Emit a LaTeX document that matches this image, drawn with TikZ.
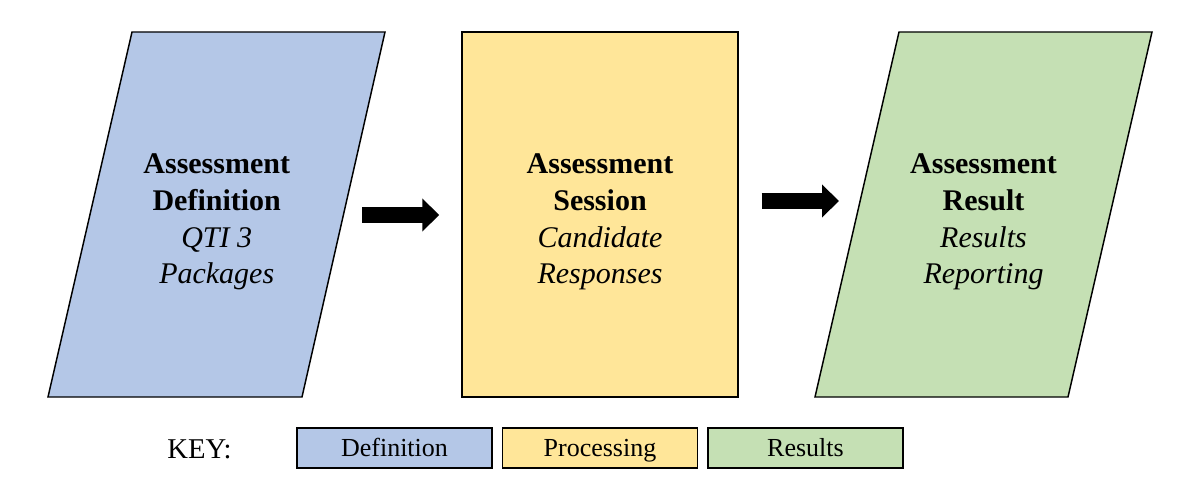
\documentclass[tikz,border=0pt]{standalone}
\usepackage{fontspec}
\setmainfont{Liberation Serif}
\usepackage{tikz}
\usetikzlibrary{arrows.meta}
\definecolor{defblue}{HTML}{B4C7E7}
\definecolor{procyellow}{HTML}{FFE699}
\definecolor{resgreen}{HTML}{C5E0B4}
\begin{document}
\begin{tikzpicture}[x=0.75pt,y=-0.75pt,
  stageline/.style={draw=black,line width=1.1pt,line join=miter},
  stagetext/.style={align=center,inner sep=0pt,font=\fontsize{22.5pt}{27.5pt}\selectfont},
  keybox/.style={draw=black,line width=1.1pt,minimum width=146.25pt,minimum height=30pt,inner sep=0pt,
    text height=16pt,text depth=3pt,font=\fontsize{19.5pt}{23pt}\selectfont},
  blockarrow/.style={line width=12pt,-{Triangle[length=12.75pt,width=24pt]}}]
                      \useasboundingbox (0,0) rectangle (1200,481);
                      \filldraw[stageline,fill=defblue](132,32)--(385,32)--(302,397)--(48,397)--cycle;
                      \node[stageline,fill=procyellow,minimum width=207pt,minimum height=273.75pt,inner sep=0pt](ses)at(600,214.5){};
                      \filldraw[stageline,fill=resgreen](899,32)--(1152,32)--(1068,397)--(815,397)--cycle;
                      \node[stagetext](def)at(216.75,222){\textbf{Assessment}\\\textbf{Definition}\\\textit{QTI 3}\\\textit{Packages}};
                      \node[stagetext](sestxt)at(600,222){\textbf{Assessment}\\\textbf{Session}\\\textit{Candidate}\\\textit{Responses}};
                      \node[stagetext](res)at(983.5,222){\textbf{Assessment}\\\textbf{Result}\\\textit{Results}\\\textit{Reporting}};
                      \coordinate(a1)at(362,215);
                      \coordinate(a2)at(839,201);
                      \draw[blockarrow,shorten >=16.5pt](a1)--(a1 -| ses.west);
                      \draw[blockarrow,shorten <=17.25pt](a2 -| ses.east)--(a2);
                      \node[font=\fontsize{21.5pt}{25pt}\selectfont](key)at(199.5,449){KEY:};
                      \node[keybox,fill=defblue](kdef)at(394.5,448){Definition};
                      \node[keybox,fill=procyellow](kproc)at(600,448){Processing};
                      \node[keybox,fill=resgreen](kres)at(805.5,448){Results};
                  \end{tikzpicture}
\end{document}
